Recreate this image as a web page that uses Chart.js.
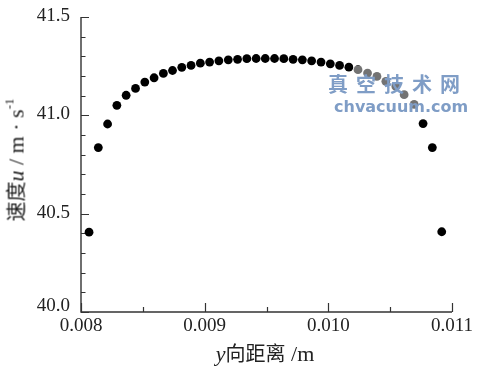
<!DOCTYPE html>
<html>
<head>
<meta charset="utf-8">
<script src="https://cdn.jsdelivr.net/npm/chart.js@4"></script>
<style>
  body { margin: 0; background: #fff; }
  #wrap { position: relative; width: 490px; height: 373px; }
  .title { position: absolute; white-space: nowrap; font-family: "Liberation Serif", serif; font-size: 22px; color: #222; }
  .cjk { font-family: "Noto Sans CJK SC", sans-serif; font-size: 20px; }
  #ytitle { left: 15px; top: 160px; transform: translate(-50%, -50%) rotate(-90deg); }
  #xtitle { left: 265px; top: 352px; transform: translate(-50%, -50%); }
  sup { font-size: 13px; vertical-align: 10px; line-height: 0; }
  #veil { position: absolute; left: 353px; top: 66px; width: 116px; height: 50px; background: rgba(255,255,255,0.45); }
  #mark { position: absolute; left: 328px; top: 72px; color: #7f9dc6; font-weight: bold; }
  #mark .cn { font-family: "Noto Sans CJK SC", sans-serif; font-size: 20px; letter-spacing: 8px; line-height: 24px; }
  #mark .en { font-family: "DejaVu Sans", sans-serif; font-size: 16px; line-height: 22px; margin-left: 6px; }
</style>
</head>
<body>
<div id="wrap">
  <canvas id="chart"></canvas>
  <div class="title" id="ytitle"><span class="cjk">速度</span><i>u</i> / m · s<sup>-1</sup></div>
  <div class="title" id="xtitle"><i>y</i><span class="cjk">向距离</span> /m</div>
  <div id="veil"></div>
  <div id="mark"><div class="cn">真空技术网</div><div class="en">chvacuum.com</div></div>
</div>
<script>
// y-direction distance (m) and velocity u (m/s)
const distance = [
  0.008065, 0.008140, 0.008215, 0.008290, 0.008365, 0.008441, 0.008516, 0.008591,
  0.008666, 0.008740, 0.008815, 0.008890, 0.008965, 0.009040, 0.009115, 0.009191,
  0.009266, 0.009341, 0.009416, 0.009490, 0.009565, 0.009640, 0.009715, 0.009790,
  0.009865, 0.009941, 0.010016, 0.010091, 0.010166, 0.010240, 0.010317, 0.010393,
  0.010465, 0.010546, 0.010613, 0.010694, 0.010766, 0.010841, 0.010917
];
const speed = [
  40.406, 40.836, 40.956, 41.051, 41.102, 41.137, 41.169, 41.191,
  41.213, 41.228, 41.244, 41.254, 41.265, 41.271, 41.277, 41.282,
  41.285, 41.288, 41.289, 41.289, 41.289, 41.288, 41.285, 41.282,
  41.277, 41.271, 41.262, 41.254, 41.245, 41.232, 41.215, 41.198,
  41.173, 41.147, 41.105, 41.056, 40.958, 40.836, 40.408
];
const xRange = [0.008, 0.011];
const yRange = [40.0, 41.5];

const points = distance.map((d, i) => ({ x: d, y: speed[i] }));

// axis lines with inward major/minor ticks, and the y tick labels
const axesPlugin = {
  id: "axes",
  beforeDatasetsDraw(chart) {
    const { ctx, chartArea: a, scales } = chart;
    const x = scales.x, y = scales.y;
    ctx.save();
    ctx.strokeStyle = "#333";
    ctx.lineWidth = 1.4;
    ctx.beginPath();
    ctx.moveTo(a.left, a.top);
    ctx.lineTo(a.left, a.bottom);
    ctx.lineTo(a.right, a.bottom);
    ctx.stroke();
    ctx.lineWidth = 1.2;
    ctx.beginPath();
    for (let i = 0; i <= 15; i++) {
      const py = Math.round(y.getPixelForValue(yRange[0] + i * 0.1)) + 0.5;
      const len = i % 5 === 0 ? 8 : 4.5;
      ctx.moveTo(a.left, py);
      ctx.lineTo(a.left + len, py);
    }
    for (let i = 0; i <= 6; i++) {
      const px = Math.round(x.getPixelForValue(xRange[0] + i * 0.0005)) + 0.5;
      const len = i % 2 === 0 ? 9 : 5;
      ctx.moveTo(px, a.bottom);
      ctx.lineTo(px, a.bottom - len);
    }
    ctx.stroke();

    ctx.fillStyle = "#222";
    ctx.font = "19px 'Liberation Serif'";
    ctx.textAlign = "right";
    ctx.textBaseline = "middle";
    y.ticks.forEach((t, i) => {
      const py = y.getPixelForValue(t.value) - (i === 0 ? 6 : 1);
      ctx.fillText(t.value.toFixed(1), a.left - 11, py);
    });
    ctx.restore();
  }
};

new Chart(document.getElementById("chart"), {
  type: "scatter",
  data: {
    datasets: [{
      data: points,
      backgroundColor: "#000",
      borderColor: "#000",
      pointRadius: 4.4,
      pointHoverRadius: 4.4,
      borderWidth: 0
    }]
  },
  options: {
    responsive: true,
    maintainAspectRatio: false,
    animation: false,
    events: [],
    layout: { padding: { top: 17, right: 38, left: 0, bottom: 0 } },
    plugins: { legend: { display: false }, tooltip: { enabled: false } },
    scales: {
      x: {
        type: "linear",
        min: xRange[0],
        max: xRange[1],
        afterFit: (s) => { s.height = 61; s.paddingLeft = 0; s.paddingRight = 0; },
        grid: { display: false, drawTicks: false },
        border: { display: false },
        ticks: {
          stepSize: 0.001,
          padding: 3,
          color: "#222",
          font: { family: "Liberation Serif", size: 19 },
          callback: (v) => v.toFixed(3)
        }
      },
      y: {
        min: yRange[0],
        max: yRange[1],
        afterFit: (s) => { s.width = 81; s.paddingTop = 0; s.paddingBottom = 0; },
        grid: { display: false, drawTicks: false },
        border: { display: false },
        ticks: { stepSize: 0.5, display: false }
      }
    }
  },
  plugins: [axesPlugin]
});
</script>
</body>
</html>
